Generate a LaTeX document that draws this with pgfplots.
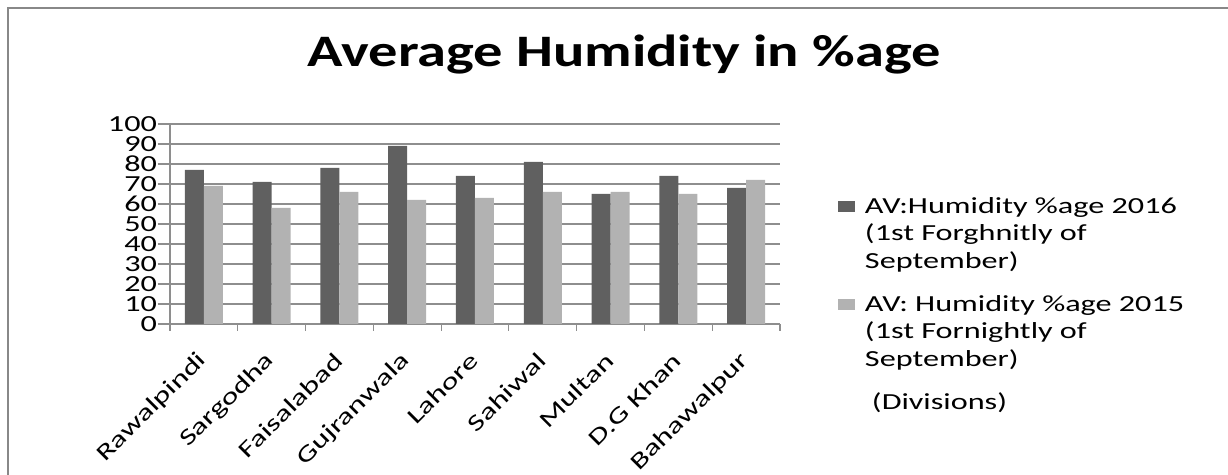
\documentclass[border=0pt]{standalone}
\usepackage{fontspec}
\setmainfont[FakeStretch=1.4]{Carlito}
\newfontfamily\titlefont[FakeStretch=1.3]{Carlito}
\usepackage{pgfplots}
\pgfplotsset{compat=1.18}
\definecolor{barDark}{HTML}{606060}
\definecolor{barLight}{HTML}{B2B2B2}
\definecolor{gridgray}{HTML}{8E8E8E}
\definecolor{framegray}{HTML}{888888}
\pgfplotsset{
	sq legend/.style={legend image code/.code={\fill[##1] (0pt,-2.75pt) rectangle (8.5pt,2.75pt);}}
}
\begin{document}
\begin{tikzpicture}
\useasboundingbox (0,0) rectangle (614pt,-237.5pt);
% frame: only top and left edges are visible
\draw[framegray, line width=1.25pt] (4pt,-237.5pt) -- (4pt,-4pt) -- (614pt,-4pt);
\node[anchor=base, font=\titlefont\bfseries\fontsize{22.5}{27}\selectfont] at (312pt,-33.5pt) {Average Humidity in \%age};

\begin{axis}[
	at={(85pt,-162pt)}, anchor=south west,
	scale only axis, width=305pt, height=100pt,
	ybar=0pt, bar width=9.5pt,
	ymin=0, ymax=100, ytick distance=10,
	xmin=-0.5, xmax=8.5,
	xtick={0,...,8},
	xticklabels={Rawalpindi,Sargodha,Faisalabad,Gujranwala,Lahore,Sahiwal,Multan,D.G Khan,Bahawalpur},
	minor xtick={-0.5,0.5,...,8.5},
	axis lines*=left,
	axis line style={gridgray, line width=0.6pt},
	ymajorgrids, grid style={gridgray, line width=0.6pt},
	tick align=outside,
	major tick length=6pt, minor tick length=3.3pt,
	every major x tick/.style={draw=none},
	every minor x tick/.style={gridgray, line width=0.6pt},
	ytick style={gridgray, line width=0.6pt},
	/pgf/number format/assume math mode=true,
	tick label style={font=\fontsize{11.5}{14}\selectfont, black},
	yticklabel style={xshift=3pt},
	xticklabel style={xshift=2pt, yshift=-8pt, anchor=east, rotate=45},
	legend style={at={(1.0951,0.655)}, anchor=north west, draw=none, fill=none,
		inner sep=0pt, outer sep=0pt, row sep=0pt, column sep=5pt,
		font=\fontsize{11.5}{14}\selectfont,
		nodes={inner sep=0pt, text height=10pt, text depth=3.8pt}},
	legend cell align=left,
]
\addplot[fill=barDark, draw=none, bar shift=-4.75pt, sq legend] coordinates {
	(0,77) (1,71) (2,78) (3,89) (4,74) (5,81) (6,65) (7,74) (8,68)};
\addlegendentry{AV:Humidity \%age 2016}
\addlegendimage{empty legend}
\addlegendentry{(1st Forghnitly of}
\addlegendimage{empty legend}
\addlegendentry[text depth=11.5pt]{September)}
\addplot[fill=barLight, draw=none, bar shift=4.75pt, sq legend] coordinates {
	(0,69) (1,58) (2,66) (3,62) (4,63) (5,66) (6,66) (7,65) (8,72)};
\addlegendentry{AV: Humidity \%age 2015}
\addlegendimage{empty legend}
\addlegendentry{(1st Fornightly of}
\addlegendimage{empty legend}
\addlegendentry[text depth=11.5pt]{September)}
\addlegendimage{empty legend}
\addlegendentry{\hspace{3.5pt}(Divisions)}
\end{axis}
\end{tikzpicture}
\end{document}
